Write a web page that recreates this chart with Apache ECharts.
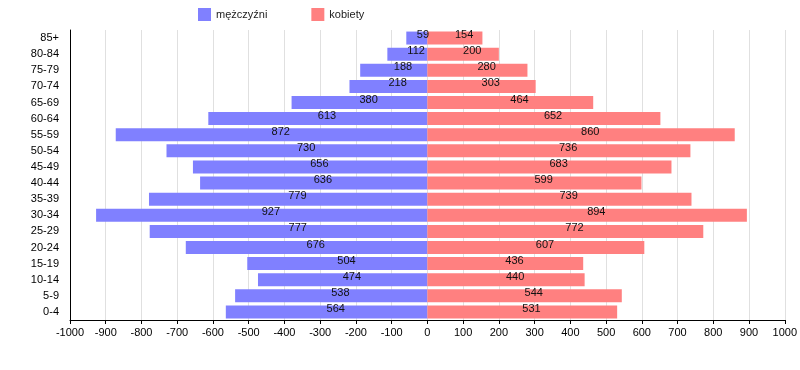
<!DOCTYPE html>
<html><head><meta charset="utf-8">
<script src="https://cdn.jsdelivr.net/npm/echarts@6/dist/echarts.min.js"></script>
<style>html,body{margin:0;padding:0;background:#fff}#c{width:800px;height:370px}</style>
</head><body><div id="c"></div>
<script>
var categories = ['0-4','5-9','10-14','15-19','20-24','25-29','30-34','35-39','40-44','45-49','50-54','55-59','60-64','65-69','70-74','75-79','80-84','85+'];
var men = [564,538,474,504,676,777,927,779,636,656,730,872,613,380,218,188,112,59];
var women = [531,544,440,436,607,772,894,739,599,683,736,860,652,464,303,280,200,154];
var xTicks = {min:-1000, max:1000, interval:100};

var font = 'Liberation Sans, Arial, sans-serif';
var chart = echarts.init(document.getElementById('c'), null, {renderer:'canvas'});
var lbl = {show:true, position:'inside', align:'left', offset:[0,-3], color:'#111', fontFamily:font, fontSize:11,
  formatter:function(p){return Math.abs(p.value);}};
chart.setOption({
  animation:false,
  legend:{left:193, top:3, itemWidth:13, itemHeight:13, itemGap:44, icon:'rect',
    textStyle:{fontFamily:font, fontSize:11, color:'#222'},
    data:['mężczyźni','kobiety']},
  grid:{left:70, right:15, top:30, bottom:50},
  xAxis:{type:'value', min:xTicks.min, max:xTicks.max, interval:xTicks.interval,
    axisLine:{show:true, onZero:false, lineStyle:{color:'#000'}},
    axisTick:{show:true, length:4, lineStyle:{color:'#000'}},
    axisLabel:{color:'#000', fontFamily:font, fontSize:11, margin:7, formatter:function(v){return String(v);}},
    splitLine:{show:true, lineStyle:{color:'#e0e0e0'}}},
  yAxis:{type:'category', data:categories,
    axisLine:{show:true, onZero:false, lineStyle:{color:'#000'}},
    axisTick:{show:false},
    axisLabel:{color:'#000', fontFamily:font, fontSize:11, margin:11},
    splitLine:{show:false}},
  series:[
    {name:'mężczyźni', type:'bar', data:men.map(function(v){return -v;}), barWidth:13, barGap:'-100%',
      itemStyle:{color:'#8080ff'}, label:lbl},
    {name:'kobiety', type:'bar', data:women, barWidth:13, barGap:'-100%',
      itemStyle:{color:'#ff8080'}, label:lbl}
  ]
});
</script></body></html>
